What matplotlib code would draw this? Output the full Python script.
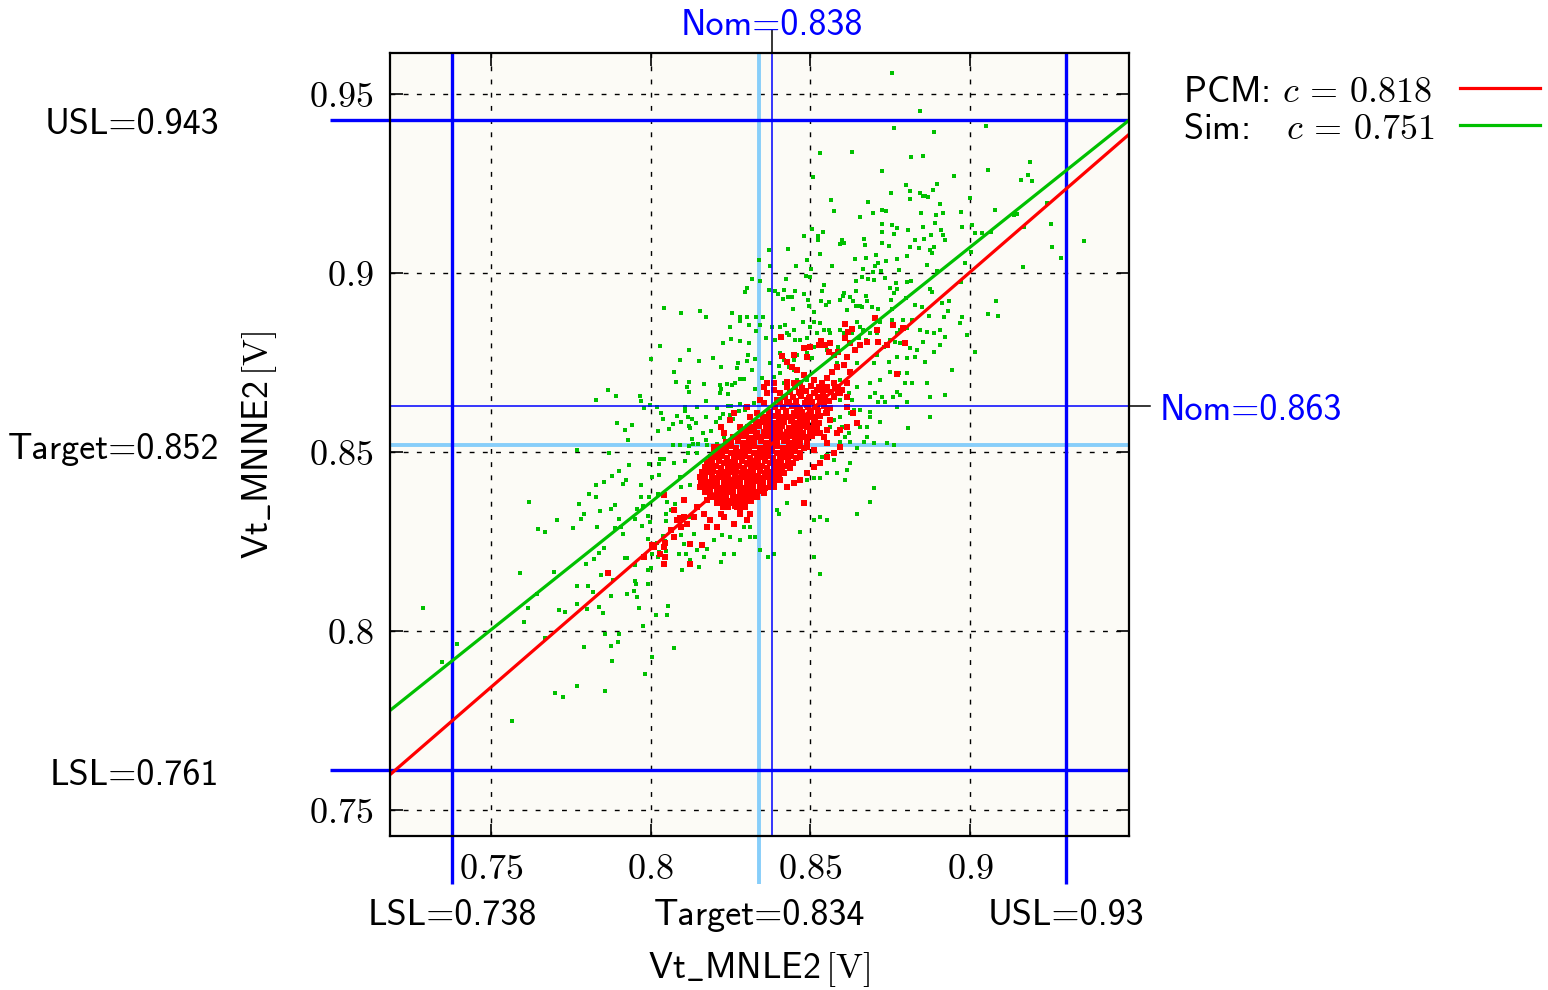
import matplotlib
matplotlib.use("Agg")
import matplotlib.pyplot as plt
import matplotlib.transforms as mtransforms
from matplotlib.lines import Line2D

plt.rcParams["mathtext.fontset"] = "cm"
plt.rcParams["font.family"] = ["cmss10", "DejaVu Sans"]
plt.rcParams["axes.unicode_minus"] = False

FS = 26

# ---------------- data ----------------
x_ticks = [0.75, 0.80, 0.85, 0.90]
x_tick_labels = ["0.75", "0.8", "0.85", "0.9"]
y_ticks = [0.75, 0.80, 0.85, 0.90, 0.95]
y_tick_labels = ["0.75", "0.8", "0.85", "0.9", "0.95"]

x_lsl, x_target, x_nom, x_usl = 0.738, 0.834, 0.838, 0.93
y_lsl, y_target, y_nom, y_usl = 0.761, 0.852, 0.863, 0.943

pcm_slope, pcm_intercept, pcm_corr = 0.7746, 0.2032, 0.818
sim_slope, sim_intercept, sim_corr = 0.714, 0.2647, 0.751

x_name, y_name = "MNLE2", "MNNE2"

# simulated samples (Vt_MNLE2, Vt_MNNE2)
sim_points_low = [
    (0.7619, 0.836), (0.7709, 0.831), (0.7647, 0.8285), (0.7669, 0.8276), (0.7759, 0.8287),
    (0.7775, 0.8355), (0.7791, 0.8327), (0.7784, 0.8313), (0.7809, 0.8383), (0.7828, 0.8408),
    (0.7856, 0.8416), (0.7881, 0.8433), (0.7903, 0.8447), (0.7913, 0.8411), (0.7922, 0.8422),
    (0.7831, 0.8374), (0.7841, 0.8335), (0.7875, 0.8341), (0.7888, 0.8352), (0.79, 0.8313),
    (0.7888, 0.8287), (0.7834, 0.829), (0.7909, 0.829), (0.7913, 0.8271), (0.7969, 0.8408),
    (0.7969, 0.8374), (0.7994, 0.8374), (0.8006, 0.843), (0.8028, 0.8436), (0.8022, 0.8383),
    (0.8053, 0.836), (0.8063, 0.8338), (0.8047, 0.8327), (0.8078, 0.8355), (0.7959, 0.8341),
    (0.7975, 0.8349), (0.7991, 0.8321), (0.7997, 0.8304), (0.7953, 0.8313), (0.7972, 0.8293),
    (0.8047, 0.8307), (0.7991, 0.8257), (0.8, 0.8243), (0.8019, 0.8245), (0.8038, 0.8265),
    (0.8044, 0.8251), (0.8006, 0.8215), (0.8028, 0.822), (0.8047, 0.8223), (0.8025, 0.8206),
    (0.8003, 0.8176), (0.7991, 0.817), (0.7981, 0.8209), (0.7925, 0.8204), (0.7919, 0.8204),
    (0.7953, 0.8184), (0.7856, 0.8231), (0.7838, 0.8217), (0.7822, 0.8201), (0.7797, 0.8187),
    (0.7844, 0.8156), (0.7866, 0.8164), (0.7884, 0.8142), (0.7953, 0.8139), (0.7956, 0.8131),
    (0.7991, 0.8131), (0.7947, 0.8111), (0.7925, 0.8103), (0.7959, 0.8094), (0.7963, 0.8064),
    (0.7875, 0.8097), (0.7806, 0.8125), (0.7819, 0.8108), (0.7769, 0.8125), (0.7697, 0.8164),
    (0.7591, 0.8162), (0.7644, 0.8103), (0.7616, 0.8064), (0.7603, 0.8025), (0.7713, 0.8058),
    (0.7734, 0.8053), (0.7769, 0.8075), (0.78, 0.8061), (0.7838, 0.8066), (0.785, 0.805),
    (0.8056, 0.8069), (0.8016, 0.8044), (0.8053, 0.8044), (0.7978, 0.8013), (0.7859, 0.7991),
    (0.7903, 0.7991), (0.7875, 0.7957), (0.7897, 0.7969), (0.7791, 0.7955), (0.7669, 0.798),
    (0.7394, 0.7963), (0.7288, 0.8064), (0.7347, 0.7913), (0.7878, 0.7915), (0.8006, 0.7927),
    (0.8075, 0.7952), (0.7984, 0.7879), (0.7769, 0.7846), (0.77, 0.7826), (0.7725, 0.7815),
    (0.7859, 0.7832), (0.7566, 0.7748),
]

sim_points_mid = [
    (0.8041, 0.8903), (0.8094, 0.8889), (0.8156, 0.8894), (0.8175, 0.8878), (0.8256, 0.8889),
    (0.8281, 0.8878), (0.8281, 0.8866), (0.8303, 0.8878), (0.8331, 0.8878), (0.825, 0.885),
    (0.8309, 0.8855), (0.8331, 0.8838), (0.8228, 0.8805), (0.8253, 0.8816), (0.8281, 0.881),
    (0.8309, 0.8805), (0.8031, 0.8796), (0.8119, 0.8785), (0.8, 0.876), (0.8091, 0.8757),
    (0.8153, 0.8755), (0.8197, 0.8763), (0.8306, 0.8771), (0.8303, 0.8755), (0.8275, 0.8749),
    (0.8272, 0.8735), (0.8328, 0.876), (0.8222, 0.8738), (0.8316, 0.8729), (0.8072, 0.8724),
    (0.8081, 0.8696), (0.8119, 0.8696), (0.8113, 0.8682), (0.8166, 0.869), (0.8216, 0.8687),
    (0.8238, 0.869), (0.8256, 0.8687), (0.8263, 0.8693), (0.8281, 0.8704), (0.8294, 0.8704),
    (0.8222, 0.8676), (0.8216, 0.8665), (0.8119, 0.8668), (0.8241, 0.8662), (0.8328, 0.8676),
    (0.7866, 0.8673), (0.7891, 0.8657), (0.7828, 0.8645), (0.7966, 0.8657), (0.7969, 0.8643),
    (0.7981, 0.8623), (0.7997, 0.8631), (0.8019, 0.8626), (0.8109, 0.8626), (0.8147, 0.8626),
    (0.8175, 0.8643), (0.8209, 0.8623), (0.8241, 0.8629), (0.8253, 0.8629), (0.8281, 0.8634),
    (0.8297, 0.8626), (0.8325, 0.8637), (0.8034, 0.8609), (0.8038, 0.8592), (0.8084, 0.8601),
    (0.8109, 0.8615), (0.8116, 0.8598), (0.8131, 0.8592), (0.8175, 0.8598), (0.8216, 0.8595),
    (0.8228, 0.8606), (0.825, 0.8603), (0.8259, 0.8592), (0.8278, 0.8615), (0.8297, 0.8617),
    (0.7894, 0.8581), (0.7941, 0.8576), (0.7919, 0.8562), (0.8025, 0.8559), (0.8059, 0.8564),
    (0.8069, 0.8578), (0.8094, 0.8584), (0.8119, 0.8573), (0.8141, 0.8581), (0.8125, 0.8567),
    (0.8206, 0.8584), (0.8188, 0.8559), (0.8163, 0.8553), (0.7931, 0.8534), (0.8131, 0.8536),
    (0.8231, 0.8542), (0.8069, 0.852), (0.8091, 0.852), (0.8119, 0.8517), (0.8134, 0.8522),
    (0.815, 0.8522), (0.8175, 0.8534), (0.8178, 0.852), (0.8209, 0.8522), (0.7769, 0.8506),
    (0.7869, 0.8497), (0.8116, 0.8497), (0.8147, 0.8497), (0.8031, 0.848), (0.8041, 0.848),
    (0.8072, 0.8469), (0.8109, 0.8475), (0.7934, 0.8464), (0.7994, 0.8466), (0.8028, 0.8466),
    (0.8091, 0.843),
    (0.8094, 0.8403), (0.8125, 0.8407), (0.8125, 0.8319), (0.8094, 0.8268), (0.8135, 0.8272),
    (0.8104, 0.8244), (0.8146, 0.8226), (0.8177, 0.823), (0.8089, 0.8216), (0.811, 0.8216),
    (0.8125, 0.8198), (0.8167, 0.8207), (0.8099, 0.817), (0.8151, 0.8179), (0.8219, 0.8193),
    (0.8229, 0.8216), (0.826, 0.8216), (0.8198, 0.8254), (0.8224, 0.8268), (0.825, 0.8263),
    (0.8281, 0.8254), (0.8312, 0.8263), (0.8291, 0.8291), (0.8312, 0.8291), (0.8328, 0.8263),
    (0.8343, 0.8226), (0.8369, 0.8207), (0.8385, 0.8216), (0.8396, 0.8337), (0.8401, 0.8328),
    (0.8427, 0.8356), (0.8469, 0.8277), (0.851, 0.8207), (0.851, 0.831), (0.8531, 0.8319),
    (0.8552, 0.831), (0.8531, 0.816), (0.849, 0.8421), (0.851, 0.8426), (0.8531, 0.8426),
    (0.8552, 0.844), (0.8583, 0.844), (0.8614, 0.8449), (0.8609, 0.8421), (0.8625, 0.8468),
    (0.8698, 0.8398), (0.8687, 0.8361), (0.8646, 0.8328), (0.8573, 0.8477), (0.8536, 0.8487),
    (0.8552, 0.8491), (0.8594, 0.8529), (0.8625, 0.8529), (0.8646, 0.851), (0.8667, 0.8529),
    (0.8698, 0.8524), (0.874, 0.8524), (0.8761, 0.8519),
]

sim_points_high = [
    (0.8756, 0.956), (0.8844, 0.9454), (0.8763, 0.9406), (0.8888, 0.9395), (0.8631, 0.9339),
    (0.8531, 0.9336), (0.8816, 0.9325), (0.8853, 0.9328), (0.8725, 0.9286), (0.8509, 0.9269),
    (0.895, 0.9272), (0.88, 0.9247), (0.8897, 0.925), (0.8813, 0.923), (0.8884, 0.9233),
    (0.8753, 0.9225), (0.8844, 0.9225), (0.8853, 0.9216), (0.8859, 0.9216), (0.8869, 0.9213),
    (0.8813, 0.9208), (0.9, 0.921), (0.8566, 0.9205), (0.8681, 0.9199), (0.8906, 0.9194),
    (0.8575, 0.9174), (0.8725, 0.9177), (0.8738, 0.9174), (0.8697, 0.9168), (0.8847, 0.9168),
    (0.8894, 0.9163), (0.8916, 0.9168), (0.8972, 0.9171), (0.8656, 0.9157), (0.8891, 0.9141),
    (0.8725, 0.9138), (0.8756, 0.9135), (0.8772, 0.9127), (0.8853, 0.9129), (0.9006, 0.9135),
    (0.8975, 0.9129), (0.8909, 0.9121), (0.8541, 0.9115), (0.8506, 0.9124), (0.8725, 0.9115),
    (0.8763, 0.911), (0.8806, 0.9121), (0.8878, 0.9107), (0.8916, 0.9107), (0.9016, 0.9112),
    (0.8481, 0.9104), (0.8525, 0.9104), (0.8525, 0.9093), (0.86, 0.9093), (0.8606, 0.9084),
    (0.8594, 0.9082), (0.8669, 0.9096), (0.8672, 0.9079), (0.8725, 0.9084), (0.8747, 0.9076),
    (0.8828, 0.9093), (0.8841, 0.9071), (0.8813, 0.9073), (0.8856, 0.9096), (0.8888, 0.9073),
    (0.8922, 0.9093), (0.8875, 0.9065), (0.8881, 0.9057), (0.8372, 0.9065), (0.8431, 0.9068),
    (0.8531, 0.9054), (0.8338, 0.9037), (0.8491, 0.9037), (0.8641, 0.904), (0.8675, 0.9043),
    (0.8706, 0.9051), (0.8713, 0.9029), (0.8738, 0.9034), (0.8772, 0.904), (0.8803, 0.9048),
    (0.8866, 0.9023), (0.8984, 0.9029), (0.8456, 0.902), (0.8569, 0.902), (0.8375, 0.902),
    (0.8503, 0.9012), (0.8488, 0.8992), (0.85, 0.899), (0.8666, 0.9012), (0.8703, 0.902),
    (0.8697, 0.9004), (0.8722, 0.9006), (0.8663, 0.899), (0.87, 0.8981), (0.8734, 0.8987),
    (0.8778, 0.9009), (0.8769, 0.8973), (0.8803, 0.8975), (0.8816, 0.8978), (0.8897, 0.9006),
    (0.8319, 0.8984), (0.8344, 0.8978), (0.8425, 0.8984), (0.8544, 0.8967), (0.8644, 0.8978),
    (0.8681, 0.8984), (0.875, 0.8959), (0.8772, 0.8956), (0.8875, 0.8956), (0.8303, 0.8959),
    (0.8297, 0.8948), (0.8372, 0.8953), (0.8388, 0.8951), (0.84, 0.8942), (0.8419, 0.8953),
    (0.8416, 0.8928), (0.8431, 0.8934), (0.8444, 0.8934), (0.8453, 0.8951), (0.8481, 0.8942),
    (0.8494, 0.8925), (0.8497, 0.8908), (0.8538, 0.8951), (0.8534, 0.8922), (0.855, 0.8911),
    (0.8559, 0.892), (0.8594, 0.8925), (0.8603, 0.8936), (0.8625, 0.8934), (0.8606, 0.8945),
    (0.8644, 0.8951), (0.8634, 0.8922), (0.8675, 0.8936), (0.8644, 0.8908), (0.8656, 0.8908),
    (0.8678, 0.8922), (0.8663, 0.8906), (0.8694, 0.8906), (0.8713, 0.89), (0.8753, 0.8925),
    (0.8763, 0.8945), (0.8756, 0.89), (0.88, 0.8931), (0.8828, 0.8911), (0.885, 0.8906),
    (0.8881, 0.8948), (0.8913, 0.8917), (0.8934, 0.8922), (0.8931, 0.8894), (0.8447, 0.89),
    (0.8513, 0.8892), (0.8616, 0.8897), (0.8872, 0.888), (0.8975, 0.8877), (0.8353, 0.8878),
    (0.9003, 0.9059), (0.8972, 0.8975), (0.8919, 0.8877),
    (0.905, 0.9412), (0.9188, 0.9311), (0.9056, 0.9289), (0.9181, 0.9275), (0.9159, 0.9261),
    (0.9194, 0.9258), (0.9078, 0.9177), (0.9147, 0.9166), (0.9138, 0.9163), (0.924, 0.9196),
    (0.9038, 0.9112), (0.9066, 0.9115), (0.9169, 0.9129), (0.9253, 0.9138), (0.9356, 0.909),
    (0.9256, 0.9073), (0.9284, 0.9043), (0.9166, 0.9017), (0.9081, 0.8922), (0.9056, 0.8886),
    (0.9088, 0.888),
]

sim_points_right = [
    (0.8476, 0.8864), (0.85, 0.8851), (0.8513, 0.8865), (0.8531, 0.886), (0.8646, 0.8865),
    (0.8719, 0.8865), (0.8755, 0.8869), (0.8791, 0.8869), (0.8817, 0.8869), (0.8969, 0.886),
    (0.8344, 0.8855), (0.838, 0.8851), (0.8406, 0.8851), (0.8422, 0.8855), (0.8427, 0.8832),
    (0.8448, 0.8841), (0.8521, 0.8832), (0.8542, 0.8841), (0.8557, 0.8841), (0.8562, 0.8832),
    (0.8594, 0.8841), (0.8606, 0.8834), (0.863, 0.8832), (0.8656, 0.8851), (0.8666, 0.8841),
    (0.8708, 0.8832), (0.8771, 0.8832), (0.8781, 0.8841), (0.8802, 0.8846), (0.8844, 0.8841),
    (0.8864, 0.8837), (0.8886, 0.8832), (0.8906, 0.8841), (0.899, 0.8827),
    (0.836, 0.8818), (0.8391, 0.8813), (0.8432, 0.8827), (0.8453, 0.8813), (0.8469, 0.8813),
    (0.849, 0.8818), (0.851, 0.8795), (0.8552, 0.8785), (0.8588, 0.8795), (0.8651, 0.8818),
    (0.8675, 0.8813), (0.8687, 0.8832), (0.8708, 0.8809), (0.875, 0.8813), (0.8765, 0.8809),
    (0.8781, 0.8804), (0.8812, 0.879), (0.8833, 0.8785), (0.8854, 0.8809), (0.8886, 0.8781),
    (0.8906, 0.8799), (0.8922, 0.8823), (0.8828, 0.8767), (0.8802, 0.8762), (0.8859, 0.8753),
    (0.8771, 0.8767), (0.8745, 0.8753), (0.8406, 0.8776), (0.8417, 0.8757), (0.8448, 0.8757),
    (0.849, 0.8776), (0.8375, 0.8748), (0.8401, 0.8741), (0.8432, 0.8739), (0.8458, 0.8771),
    (0.8505, 0.8762), (0.8583, 0.8748), (0.8646, 0.8748), (0.8698, 0.8748), (0.8708, 0.8771),
    (0.8729, 0.8795), (0.9015, 0.8781),
    (0.8349, 0.8706), (0.836, 0.8692), (0.8386, 0.8711), (0.8406, 0.872), (0.8417, 0.8692),
    (0.8448, 0.8729), (0.8458, 0.8701), (0.849, 0.8701), (0.8479, 0.8673), (0.8594, 0.8701),
    (0.8615, 0.8692), (0.8646, 0.8683), (0.8687, 0.8692), (0.8719, 0.8701), (0.875, 0.8725),
    (0.8776, 0.872), (0.8802, 0.872), (0.8797, 0.8692), (0.8818, 0.8692), (0.8771, 0.8669),
    (0.876, 0.8655), (0.8781, 0.8659), (0.8864, 0.8692), (0.8875, 0.8655), (0.8942, 0.8729),
    (0.8922, 0.8659), (0.862, 0.8664), (0.8687, 0.8655), (0.8724, 0.8655), (0.8703, 0.8664),
    (0.8594, 0.8645), (0.863, 0.8645),
    (0.8713, 0.8641), (0.8734, 0.8641), (0.8771, 0.8627), (0.8802, 0.8641), (0.8656, 0.8617),
    (0.8687, 0.8613), (0.8687, 0.8599), (0.8719, 0.8585), (0.8625, 0.8608), (0.8594, 0.8599),
    (0.8573, 0.859), (0.8562, 0.8571), (0.8599, 0.8571), (0.862, 0.8552), (0.8656, 0.8571),
    (0.8677, 0.8571), (0.861, 0.8543), (0.8677, 0.8543), (0.8636, 0.8617), (0.8875, 0.8599),
    (0.8807, 0.8566),
]

# measured (PCM) samples
pcm_points_spread = [
    (0.8041, 0.838), (0.8006, 0.824), (0.8044, 0.8245), (0.8044, 0.8206), (0.8041, 0.8187),
    (0.7866, 0.8162), (0.8091, 0.8315),
    (0.7979, 0.8207), (0.801, 0.8235), (0.8042, 0.8188), (0.8073, 0.8263), (0.8094, 0.8291),
    (0.8125, 0.8244), (0.8135, 0.8319), (0.8161, 0.824), (0.8125, 0.8188), (0.8115, 0.83),
    (0.8146, 0.8347), (0.8167, 0.8328), (0.8187, 0.831), (0.8208, 0.8291), (0.8229, 0.8319),
    (0.826, 0.83), (0.8281, 0.8328), (0.8302, 0.831), (0.8177, 0.8365), (0.8208, 0.8356),
    (0.824, 0.8347), (0.8187, 0.8393), (0.8156, 0.8403), (0.8073, 0.8337), (0.8104, 0.8365),
    (0.8042, 0.8235), (0.8031, 0.8216), (0.8063, 0.8282), (0.8083, 0.831), (0.8104, 0.8319),
    (0.8177, 0.8291), (0.8219, 0.8328), (0.8271, 0.8347), (0.8312, 0.8328), (0.8333, 0.8375),
    (0.8354, 0.8384), (0.8385, 0.8403), (0.8406, 0.8421), (0.8427, 0.8403), (0.8448, 0.8412),
    (0.8469, 0.8421), (0.849, 0.844), (0.8479, 0.8356), (0.851, 0.8459), (0.8531, 0.8468),
    (0.8552, 0.8487), (0.8573, 0.8496), (0.8594, 0.8515), (0.8552, 0.8524), (0.8594, 0.8561),
    (0.8614, 0.857), (0.8646, 0.858), (0.8635, 0.8608), (0.8614, 0.8626), (0.8594, 0.8664),
    (0.8614, 0.8692), (0.8573, 0.8654), (0.8552, 0.8608), (0.8531, 0.8552), (0.851, 0.858),
    (0.849, 0.8598), (0.8531, 0.8645), (0.851, 0.8664), (0.849, 0.8645), (0.8469, 0.8617),
    (0.8448, 0.857), (0.849, 0.8515), (0.8469, 0.8487), (0.8438, 0.8468), (0.8417, 0.844),
    (0.8219, 0.857), (0.825, 0.8589), (0.826, 0.8608), (0.8344, 0.8645), (0.8365, 0.8664),
    (0.8354, 0.8682), (0.8385, 0.8692), (0.8427, 0.8696), (0.8469, 0.8692), (0.8333, 0.8608),
    (0.8281, 0.857), (0.8312, 0.8598), (0.8302, 0.8626), (0.8229, 0.8552), (0.8198, 0.8515),
    (0.8458, 0.8543), (0.851, 0.8505), (0.8542, 0.8682), (0.8573, 0.8692),
    (0.8408, 0.8821), (0.8412, 0.8768), (0.8427, 0.8753), (0.8448, 0.8771), (0.8443, 0.8739),
    (0.8458, 0.8729), (0.8479, 0.879), (0.849, 0.8767), (0.85, 0.8795), (0.8526, 0.8799),
    (0.8534, 0.881), (0.8547, 0.8799), (0.8562, 0.8804), (0.8557, 0.8781), (0.8573, 0.8771),
    (0.8588, 0.8781), (0.8609, 0.8857), (0.8617, 0.8837), (0.863, 0.8843), (0.8609, 0.8818),
    (0.8625, 0.8804), (0.864, 0.8785), (0.8656, 0.8799), (0.8677, 0.8809), (0.8703, 0.8874),
    (0.8708, 0.8841), (0.8713, 0.8809), (0.8739, 0.8799), (0.876, 0.8855), (0.8791, 0.8846),
    (0.8796, 0.8804), (0.8771, 0.8717), (0.8615, 0.8767), (0.8604, 0.8743), (0.8625, 0.8725),
    (0.8583, 0.8739), (0.8568, 0.8725), (0.8552, 0.8706), (0.851, 0.8701), (0.8536, 0.8692),
    (0.8479, 0.8715), (0.8469, 0.8692), (0.8448, 0.8692), (0.8521, 0.8673), (0.8552, 0.8673),
    (0.8588, 0.8683), (0.8615, 0.8655), (0.8599, 0.8673), (0.8531, 0.8655), (0.85, 0.8655),
    (0.8469, 0.8664), (0.8427, 0.8683), (0.8406, 0.8664), (0.8386, 0.8673), (0.8365, 0.8692),
    (0.8354, 0.8636), (0.8396, 0.8645), (0.8427, 0.8636), (0.8458, 0.8627), (0.849, 0.8631),
    (0.8521, 0.8627), (0.8542, 0.8636), (0.8552, 0.8617), (0.85, 0.8608), (0.8469, 0.8599),
    (0.8438, 0.859), (0.8406, 0.8599), (0.8375, 0.8608), (0.8365, 0.858), (0.8406, 0.8571),
    (0.8448, 0.8562), (0.849, 0.8571), (0.8521, 0.858), (0.8542, 0.8543), (0.8386, 0.8543),
    (0.8427, 0.8543), (0.8479, 0.8543), (0.851, 0.8552), (0.8562, 0.859), (0.8583, 0.8552),
    (0.8552, 0.8562),
]

pcm_points_core = [
    (0.8452, 0.8683), (0.8474, 0.8680), (0.8501, 0.8684), (0.8526, 0.8681), (0.8553, 0.8683), (0.8576, 0.8680),
    (0.8437, 0.8669), (0.8465, 0.8667), (0.8488, 0.8670), (0.8515, 0.8666), (0.8539, 0.8669), (0.8566, 0.8667),
    (0.8587, 0.8670),
    (0.8421, 0.8655), (0.8445, 0.8653), (0.8472, 0.8656), (0.8496, 0.8652), (0.8523, 0.8655), (0.8547, 0.8653),
    (0.8574, 0.8656),
    (0.8404, 0.8641), (0.8432, 0.8639), (0.8455, 0.8642), (0.8483, 0.8638), (0.8506, 0.8641), (0.8534, 0.8639),
    (0.8557, 0.8642),
    (0.8391, 0.8627), (0.8414, 0.8625), (0.8442, 0.8628), (0.8465, 0.8624), (0.8493, 0.8627), (0.8516, 0.8625),
    (0.8544, 0.8628), (0.8561, 0.8624),
    (0.8372, 0.8613), (0.8399, 0.8611), (0.8423, 0.8614), (0.8450, 0.8610), (0.8474, 0.8613), (0.8501, 0.8611),
    (0.8525, 0.8614), (0.8550, 0.8610),
    (0.8353, 0.8599), (0.8371, 0.8597), (0.8387, 0.8600), (0.8407, 0.8596), (0.8423, 0.8599), (0.8443, 0.8597),
    (0.8459, 0.8600), (0.8479, 0.8596), (0.8495, 0.8599), (0.8515, 0.8597), (0.8531, 0.8600),
    (0.8331, 0.8585), (0.8347, 0.8583), (0.8367, 0.8586), (0.8383, 0.8582), (0.8403, 0.8585), (0.8419, 0.8583),
    (0.8439, 0.8586), (0.8455, 0.8582), (0.8475, 0.8585), (0.8491, 0.8583), (0.8511, 0.8586), (0.8527, 0.8582),
    (0.8304, 0.8571), (0.8324, 0.8569), (0.8340, 0.8572), (0.8360, 0.8568), (0.8376, 0.8571), (0.8396, 0.8569),
    (0.8412, 0.8572), (0.8432, 0.8568), (0.8448, 0.8571), (0.8468, 0.8569), (0.8484, 0.8572), (0.8504, 0.8568),
    (0.8520, 0.8571),
    (0.8282, 0.8557), (0.8298, 0.8555), (0.8318, 0.8558), (0.8334, 0.8554), (0.8354, 0.8557), (0.8370, 0.8555),
    (0.8390, 0.8558), (0.8406, 0.8554), (0.8426, 0.8557), (0.8442, 0.8555), (0.8462, 0.8558), (0.8478, 0.8554),
    (0.8498, 0.8557), (0.8514, 0.8555),
    (0.8258, 0.8543), (0.8274, 0.8541), (0.8294, 0.8544), (0.8310, 0.8540), (0.8330, 0.8543), (0.8346, 0.8541),
    (0.8366, 0.8544), (0.8382, 0.8540), (0.8402, 0.8543), (0.8418, 0.8541), (0.8438, 0.8544), (0.8454, 0.8540),
    (0.8474, 0.8543), (0.8490, 0.8541), (0.8506, 0.8544),
    (0.8237, 0.8529), (0.8253, 0.8527), (0.8273, 0.8530), (0.8289, 0.8526), (0.8309, 0.8529), (0.8325, 0.8527),
    (0.8345, 0.8530), (0.8361, 0.8526), (0.8381, 0.8529), (0.8397, 0.8527), (0.8417, 0.8530), (0.8433, 0.8526),
    (0.8453, 0.8529), (0.8469, 0.8527), (0.8489, 0.8530),
    (0.8217, 0.8515), (0.8233, 0.8513), (0.8253, 0.8516), (0.8269, 0.8512), (0.8289, 0.8515), (0.8305, 0.8513),
    (0.8325, 0.8516), (0.8341, 0.8512), (0.8361, 0.8515), (0.8377, 0.8513), (0.8397, 0.8516), (0.8413, 0.8512),
    (0.8433, 0.8515), (0.8449, 0.8513), (0.8469, 0.8516), (0.8481, 0.8512),
    (0.8200, 0.8501), (0.8216, 0.8499), (0.8236, 0.8502), (0.8252, 0.8498), (0.8272, 0.8501), (0.8288, 0.8499),
    (0.8308, 0.8502), (0.8324, 0.8498), (0.8344, 0.8501), (0.8360, 0.8499), (0.8380, 0.8502), (0.8396, 0.8498),
    (0.8416, 0.8501), (0.8432, 0.8499), (0.8452, 0.8502), (0.8468, 0.8498),
    (0.8188, 0.8487), (0.8204, 0.8485), (0.8224, 0.8488), (0.8240, 0.8484), (0.8260, 0.8487), (0.8276, 0.8485),
    (0.8296, 0.8488), (0.8312, 0.8484), (0.8332, 0.8487), (0.8348, 0.8485), (0.8368, 0.8488), (0.8384, 0.8484),
    (0.8404, 0.8487), (0.8420, 0.8485), (0.8440, 0.8488), (0.8456, 0.8484),
    (0.8177, 0.8473), (0.8193, 0.8471), (0.8213, 0.8474), (0.8229, 0.8470), (0.8249, 0.8473), (0.8265, 0.8471),
    (0.8285, 0.8474), (0.8301, 0.8470), (0.8321, 0.8473), (0.8337, 0.8471), (0.8357, 0.8474), (0.8373, 0.8470),
    (0.8393, 0.8473), (0.8409, 0.8471), (0.8429, 0.8474), (0.8445, 0.8470),
    (0.8169, 0.8459), (0.8185, 0.8457), (0.8205, 0.8460), (0.8221, 0.8456), (0.8241, 0.8459), (0.8257, 0.8457),
    (0.8277, 0.8460), (0.8293, 0.8456), (0.8313, 0.8459), (0.8329, 0.8457), (0.8349, 0.8460), (0.8365, 0.8456),
    (0.8385, 0.8459), (0.8401, 0.8457), (0.8421, 0.8460), (0.8435, 0.8456),
    (0.8161, 0.8445), (0.8177, 0.8443), (0.8197, 0.8446), (0.8213, 0.8442), (0.8233, 0.8445), (0.8249, 0.8443),
    (0.8269, 0.8446), (0.8285, 0.8442), (0.8305, 0.8445), (0.8321, 0.8443), (0.8341, 0.8446), (0.8357, 0.8442),
    (0.8377, 0.8445), (0.8393, 0.8443), (0.8411, 0.8446),
    (0.8156, 0.8431), (0.8172, 0.8429), (0.8192, 0.8432), (0.8208, 0.8428), (0.8228, 0.8431), (0.8244, 0.8429),
    (0.8264, 0.8432), (0.8280, 0.8428), (0.8300, 0.8431), (0.8316, 0.8429), (0.8336, 0.8432), (0.8352, 0.8428),
    (0.8372, 0.8431), (0.8388, 0.8429), (0.8403, 0.8432),
    (0.8157, 0.8417), (0.8173, 0.8415), (0.8193, 0.8418), (0.8209, 0.8414), (0.8229, 0.8417), (0.8245, 0.8415),
    (0.8265, 0.8418), (0.8281, 0.8414), (0.8301, 0.8417), (0.8317, 0.8415), (0.8337, 0.8418), (0.8353, 0.8414),
    (0.8373, 0.8417), (0.8387, 0.8415),
    (0.8161, 0.8403), (0.8177, 0.8401), (0.8197, 0.8404), (0.8213, 0.8400), (0.8233, 0.8403), (0.8249, 0.8401),
    (0.8269, 0.8404), (0.8285, 0.8400), (0.8305, 0.8403), (0.8321, 0.8401), (0.8341, 0.8404), (0.8357, 0.8400),
    (0.8373, 0.8403),
    (0.8171, 0.8389), (0.8187, 0.8387), (0.8207, 0.8390), (0.8223, 0.8386), (0.8243, 0.8389), (0.8259, 0.8387),
    (0.8279, 0.8390), (0.8295, 0.8386), (0.8315, 0.8389), (0.8331, 0.8387), (0.8349, 0.8390),
    (0.8185, 0.8375), (0.8201, 0.8373), (0.8221, 0.8376), (0.8237, 0.8372), (0.8257, 0.8375), (0.8273, 0.8373),
    (0.8293, 0.8376), (0.8309, 0.8372), (0.8327, 0.8375),
    (0.8208, 0.8361), (0.8224, 0.8359), (0.8244, 0.8362), (0.8260, 0.8358), (0.8280, 0.8361), (0.8296, 0.8359),
    (0.8314, 0.8362),
    (0.8227, 0.8347), (0.8243, 0.8345), (0.8263, 0.8348), (0.8279, 0.8344), (0.8297, 0.8347),
]

# ---------------- figure ----------------
W_PX, H_PX = 1548, 990
fig = plt.figure(figsize=(W_PX / 100, H_PX / 100), dpi=100)
ax = fig.add_axes([390 / W_PX, 1 - 836 / H_PX, (1129 - 390) / W_PX, (836 - 53) / H_PX])
ax.set_facecolor("#fcfbf6")
ax.set_xlim(0.7185, 0.9497)
ax.set_ylim(0.7426, 0.9616)
ax.set_axisbelow(True)
ax.grid(True, color="black", linestyle=(0, (3.5, 6)), linewidth=1.0)

for s in ax.spines.values():
    s.set_linewidth(1.6)
    s.set_zorder(6)

ax.set_xticks(x_ticks)
ax.set_xticklabels([f"${t}$" for t in x_tick_labels])
ax.set_yticks(y_ticks)
ax.set_yticklabels([f"${t}$" for t in y_tick_labels])
ax.tick_params(direction="in", length=9, width=1.2, top=True, right=True,
               labelsize=FS, pad=12)

tx = mtransforms.blended_transform_factory(ax.transData, ax.transAxes)
ty = mtransforms.blended_transform_factory(ax.transAxes, ax.transData)
# text placed slightly lower than the geometric centre of its box
tx_txt = mtransforms.offset_copy(tx, fig=fig, y=-3, units="dots")
ty_txt = mtransforms.offset_copy(ty, fig=fig, y=-5, units="dots")
tx_top = mtransforms.offset_copy(tx, fig=fig, y=-4, units="dots")

BLUE = "#0000ff"
LIGHT = "#87cefa"
RED = "#ff0000"
GREEN = "#00c000"

# specification / target lines
for xv in (x_lsl, x_usl):
    ax.plot([xv, xv], [-0.0613, 1.0], transform=tx, color=BLUE, lw=2.4,
            clip_on=False, zorder=1.6, solid_capstyle="butt")
for yv in (y_lsl, y_usl):
    ax.plot([-0.0812, 1.0], [yv, yv], transform=ty, color=BLUE, lw=2.4,
            clip_on=False, zorder=1.6, solid_capstyle="butt")
ax.plot([x_target, x_target], [-0.0613, 1.0], transform=tx, color=LIGHT, lw=2.8,
        clip_on=False, zorder=1.2, solid_capstyle="butt")
ax.plot([0.0, 1.0], [y_target, y_target], transform=ty, color=LIGHT, lw=2.8,
        clip_on=False, zorder=1.2, solid_capstyle="butt")

# nominal lines with outside ticks
ax.plot([x_nom, x_nom], [0.0, 1.0], transform=tx, color=BLUE, lw=1.1, zorder=3)
ax.plot([x_nom, x_nom], [1.0, 1.029], transform=tx, color="black", lw=1.1,
        clip_on=False, zorder=3)
ax.plot([0.0, 1.0], [y_nom, y_nom], transform=ty, color=BLUE, lw=1.1, zorder=3)
ax.plot([1.0, 1.028], [y_nom, y_nom], transform=ty, color="black", lw=1.1,
        clip_on=False, zorder=3)

# scatter
sim_all = sim_points_low + sim_points_mid + sim_points_high + sim_points_right
pcm_all = pcm_points_spread + pcm_points_core
ax.scatter([p[0] for p in sim_all], [p[1] for p in sim_all], s=10, marker="s",
           color=GREEN, linewidths=0, zorder=2)
ax.scatter([p[0] for p in pcm_all], [p[1] for p in pcm_all], s=15, marker="s",
           color=RED, linewidths=0, zorder=2.5)

# regression lines
x0, x1 = ax.get_xlim()
ax.plot([x0, x1], [pcm_intercept + pcm_slope * x0, pcm_intercept + pcm_slope * x1],
        color=RED, lw=2.3, zorder=4)
ax.plot([x0, x1], [sim_intercept + sim_slope * x0, sim_intercept + sim_slope * x1],
        color=GREEN, lw=2.3, zorder=4)

# annotations
ax.text(-0.2314, y_usl, f"USL={y_usl:g}", transform=ty_txt, ha="right", va="center", fontsize=FS)
ax.text(-0.2314, y_target, f"Target={y_target:g}", transform=ty_txt, ha="right", va="center", fontsize=FS)
ax.text(-0.2314, y_lsl, f"LSL={y_lsl:g}", transform=ty_txt, ha="right", va="center", fontsize=FS)
ax.text(1.042, y_nom, f"Nom={y_nom:g}", transform=ty_txt, ha="left", va="center", fontsize=FS, color=BLUE)

ax.text(x_lsl, -0.0983, f"LSL={x_lsl:g}", transform=tx_txt, ha="center", va="center", fontsize=FS)
ax.text(x_target, -0.0983, f"Target={x_target:g}", transform=tx_txt, ha="center", va="center", fontsize=FS)
ax.text(x_usl, -0.0983, f"USL={x_usl:g}", transform=tx_txt, ha="center", va="center", fontsize=FS)
ax.text(x_nom, 1.0396, f"Nom={x_nom:g}", transform=tx_top, ha="center", va="center", fontsize=FS, color=BLUE)

ax.text(0.5, -0.17, "Vt$\\_$" + x_name + r"$\,[\mathrm{V}]$", transform=ax.transAxes,
        ha="center", va="center", fontsize=FS)
ax.text(-0.176, 0.5, "Vt$\\_$" + y_name + r"$\,[\mathrm{V}]$", transform=ax.transAxes,
        ha="center", va="center", rotation=90, fontsize=FS)

# key
fig.text(1183 / W_PX, 1 - 92 / H_PX, f"PCM: $c\\,=\\,{pcm_corr:.3f}$", ha="left", va="center", fontsize=FS)
fig.text(1183 / W_PX, 1 - 129 / H_PX, f"Sim:   $c\\,=\\,{sim_corr:.3f}$", ha="left", va="center", fontsize=FS)
fig.add_artist(Line2D([1460 / W_PX, 1540 / W_PX], [1 - 88 / H_PX] * 2, color=RED, lw=2.3))
fig.add_artist(Line2D([1460 / W_PX, 1540 / W_PX], [1 - 125 / H_PX] * 2, color=GREEN, lw=2.3))

fig.savefig("out.png", dpi=100, facecolor="white")
